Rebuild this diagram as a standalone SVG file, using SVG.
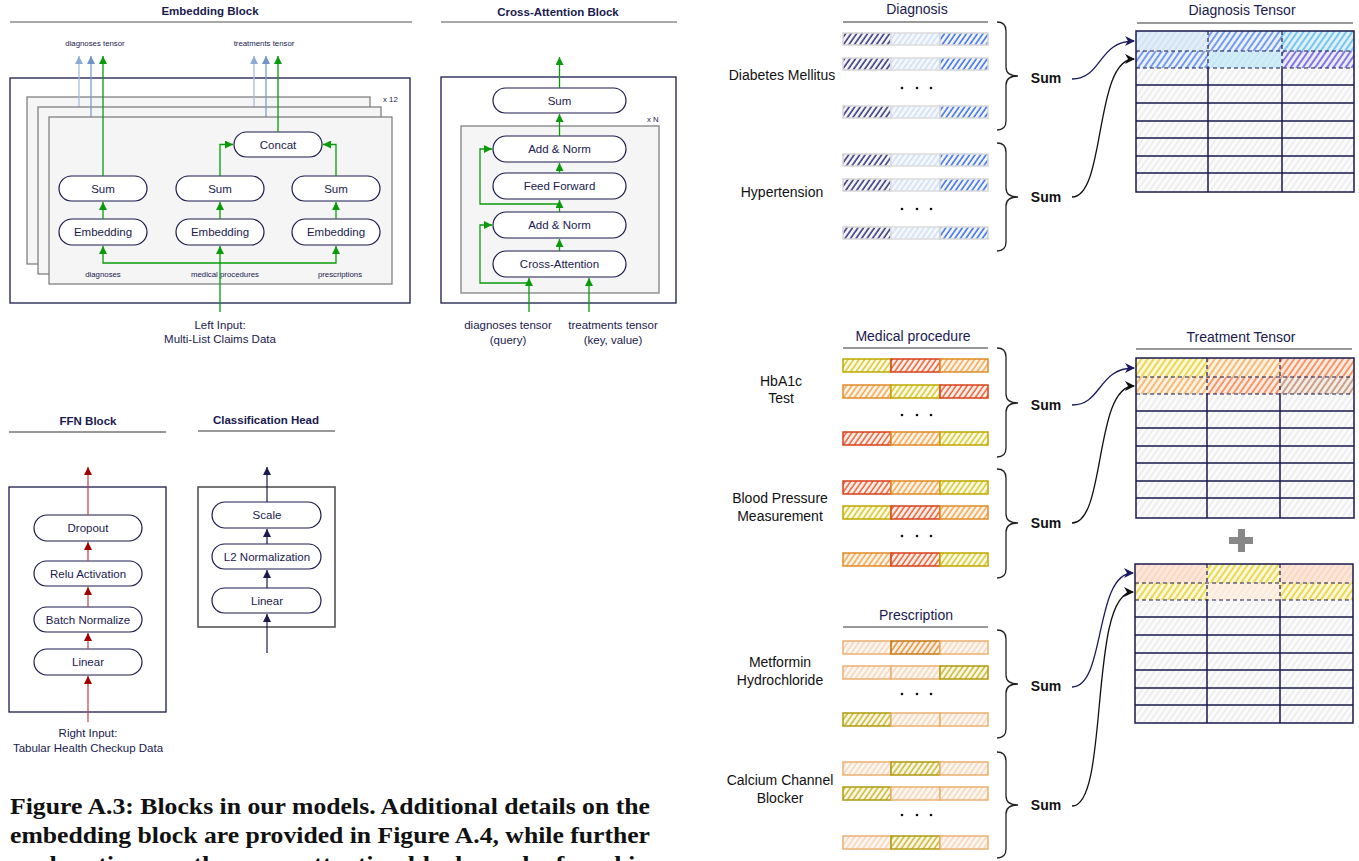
<svg xmlns="http://www.w3.org/2000/svg" width="1359" height="861" viewBox="0 0 1359 861">
<style>
.t{font-family:"Liberation Sans",Arial,sans-serif;fill:#1a1a4e;text-anchor:middle}
.bt{font-size:11.5px}
.sm{font-size:7.8px}
.ttl{font-size:11.5px;font-weight:bold}
.rt{font-size:14px}
.lab{fill:#111}
.sum{font-size:14px;font-weight:bold;fill:#111}
.box{fill:#fff;stroke:#1a1a4e;stroke-width:1.2}
.frame{fill:#fff;stroke:#1a1a4e;stroke-width:1.3}
.layer{fill:#f5f5f5;stroke:#777;stroke-width:1.2}
.ul{stroke:#555;stroke-width:1.2}
.ul2{stroke:#333;stroke-width:1.2}
.g{fill:none;stroke:#0a9b0a;stroke-width:1.3;marker-end:url(#ag)}
.b1{fill:none;stroke:#a8bedc;stroke-width:1.3;marker-end:url(#ab1)}
.b2{fill:none;stroke:#7d9ccc;stroke-width:1.3;marker-end:url(#ab2)}
.r{fill:none;stroke:#c04040;stroke-width:1.2;marker-end:url(#ar)}
.n{fill:none;stroke:#1a1a4e;stroke-width:1.2;marker-end:url(#an)}
.cn{fill:none;stroke:#1a1a5e;stroke-width:1.3;marker-end:url(#acn)}
.ck{fill:none;stroke:#111;stroke-width:1.3;marker-end:url(#ack)}
.brace{fill:none;stroke:#222;stroke-width:1.3}
.sD1{fill:url(#pNavy);stroke:#d6d6d6;stroke-width:1.5}
.sD2{fill:url(#pLBlue);stroke:#dcdcdc;stroke-width:1.5}
.sD3{fill:url(#pBlue);stroke:#d6d6d6;stroke-width:1.5}
.sY{fill:url(#pYel);stroke:#bfa800;stroke-width:1.5}
.sR{fill:url(#pRed);stroke:#d8401a;stroke-width:1.5}
.sO{fill:url(#pOra);stroke:#e08a28;stroke-width:1.5}
.sF{fill:url(#pFaint);stroke:#eab070;stroke-width:1.5}
.sS{fill:url(#pOStr);stroke:#c8781a;stroke-width:1.5}
.sL{fill:url(#pOlive);stroke:#b09a10;stroke-width:1.5}
.tl{stroke:#1a1a4e;stroke-width:1.5;fill:none}
.td{stroke:#1a1a4e;stroke-width:1.2;stroke-dasharray:4 3;fill:none}
.cap{font-family:"Liberation Serif","Times New Roman",serif;font-weight:bold;font-size:23.5px;fill:#111}
</style>
<defs>
<marker id="ag" viewBox="0 0 10 10" refX="10" refY="5" markerWidth="8" markerHeight="8" markerUnits="userSpaceOnUse" orient="auto"><path d="M0,0 L10,5 L0,10 z" fill="#0a9b0a"/></marker>
<marker id="ab1" viewBox="0 0 10 10" refX="10" refY="5" markerWidth="8" markerHeight="8" markerUnits="userSpaceOnUse" orient="auto"><path d="M0,0 L10,5 L0,10 z" fill="#8faad2"/></marker>
<marker id="ab2" viewBox="0 0 10 10" refX="10" refY="5" markerWidth="8" markerHeight="8" markerUnits="userSpaceOnUse" orient="auto"><path d="M0,0 L10,5 L0,10 z" fill="#7293c8"/></marker>
<marker id="ar" viewBox="0 0 10 10" refX="10" refY="5" markerWidth="8" markerHeight="8" markerUnits="userSpaceOnUse" orient="auto"><path d="M0,0 L10,5 L0,10 z" fill="#a00000"/></marker>
<marker id="an" viewBox="0 0 10 10" refX="10" refY="5" markerWidth="8" markerHeight="8" markerUnits="userSpaceOnUse" orient="auto"><path d="M0,0 L10,5 L0,10 z" fill="#1a1a4e"/></marker>
<marker id="acn" viewBox="0 0 10 10" refX="9" refY="5" markerWidth="10" markerHeight="10" markerUnits="userSpaceOnUse" orient="auto"><path d="M0,0 L10,5 L0,10 L3,5 z" fill="#1a1a5e"/></marker>
<marker id="ack" viewBox="0 0 10 10" refX="9" refY="5" markerWidth="10" markerHeight="10" markerUnits="userSpaceOnUse" orient="auto"><path d="M0,0 L10,5 L0,10 L3,5 z" fill="#111"/></marker>
<pattern id="pNavy" width="4.5" height="4.5" patternUnits="userSpaceOnUse" patternTransform="rotate(35)"><rect width="4.5" height="4.5" fill="#f4f4fa"/><line x1="1" y1="0" x2="1" y2="4.5" stroke="#22226e" stroke-width="1.4"/></pattern>
<pattern id="pLBlue" width="4.5" height="4.5" patternUnits="userSpaceOnUse" patternTransform="rotate(35)"><rect width="4.5" height="4.5" fill="#f4f8fd"/><line x1="1" y1="0" x2="1" y2="4.5" stroke="#cadcf2" stroke-width="1.3"/></pattern>
<pattern id="pBlue" width="4.5" height="4.5" patternUnits="userSpaceOnUse" patternTransform="rotate(35)"><rect width="4.5" height="4.5" fill="#f2f6ff"/><line x1="1" y1="0" x2="1" y2="4.5" stroke="#2a62e0" stroke-width="1.4"/></pattern>
<pattern id="pGray" width="5" height="5" patternUnits="userSpaceOnUse" patternTransform="rotate(35)"><rect width="5" height="5" fill="#fbfbfb"/><line x1="1" y1="0" x2="1" y2="5" stroke="#dedede" stroke-width="0.9"/></pattern>
<pattern id="pT1a" width="5" height="5" patternUnits="userSpaceOnUse" patternTransform="rotate(35)"><rect width="5" height="5" fill="#e2edf8"/><line x1="1" y1="0" x2="1" y2="5" stroke="#c6dcf2" stroke-width="1.1"/></pattern>
<pattern id="pT1b" width="5" height="5" patternUnits="userSpaceOnUse" patternTransform="rotate(35)"><rect width="5" height="5" fill="#eaf1ff"/><line x1="1" y1="0" x2="1" y2="5" stroke="#3a6ee6" stroke-width="1.3"/></pattern>
<pattern id="pT1c" width="5" height="5" patternUnits="userSpaceOnUse" patternTransform="rotate(35)"><rect width="5" height="5" fill="#dff0fa"/><line x1="1" y1="0" x2="1" y2="5" stroke="#3fb2e4" stroke-width="1.3"/></pattern>
<pattern id="pT1d" width="5" height="5" patternUnits="userSpaceOnUse" patternTransform="rotate(35)"><rect width="5" height="5" fill="#d2edf8"/><line x1="1" y1="0" x2="1" y2="5" stroke="#bbe3f4" stroke-width="1.1"/></pattern>
<pattern id="pT1e" width="5" height="5" patternUnits="userSpaceOnUse" patternTransform="rotate(35)"><rect width="5" height="5" fill="#ececfc"/><line x1="1" y1="0" x2="1" y2="5" stroke="#4a3ad6" stroke-width="1.3"/></pattern>
<pattern id="pYel" width="4.5" height="4.5" patternUnits="userSpaceOnUse" patternTransform="rotate(35)"><rect width="4.5" height="4.5" fill="#fdfbe6"/><line x1="1" y1="0" x2="1" y2="4.5" stroke="#d2be10" stroke-width="1.3"/></pattern>
<pattern id="pRed" width="4.5" height="4.5" patternUnits="userSpaceOnUse" patternTransform="rotate(35)"><rect width="4.5" height="4.5" fill="#fdeee8"/><line x1="1" y1="0" x2="1" y2="4.5" stroke="#e44a1c" stroke-width="1.3"/></pattern>
<pattern id="pOra" width="4.5" height="4.5" patternUnits="userSpaceOnUse" patternTransform="rotate(35)"><rect width="4.5" height="4.5" fill="#fdf3e6"/><line x1="1" y1="0" x2="1" y2="4.5" stroke="#f09a38" stroke-width="1.3"/></pattern>
<pattern id="pFaint" width="4.5" height="4.5" patternUnits="userSpaceOnUse" patternTransform="rotate(35)"><rect width="4.5" height="4.5" fill="#fef6f0"/><line x1="1" y1="0" x2="1" y2="4.5" stroke="#f6cca8" stroke-width="1.2"/></pattern>
<pattern id="pOStr" width="4.5" height="4.5" patternUnits="userSpaceOnUse" patternTransform="rotate(35)"><rect width="4.5" height="4.5" fill="#fbeede"/><line x1="1" y1="0" x2="1" y2="4.5" stroke="#d8862a" stroke-width="1.3"/></pattern>
<pattern id="pOlive" width="4.5" height="4.5" patternUnits="userSpaceOnUse" patternTransform="rotate(35)"><rect width="4.5" height="4.5" fill="#fbf8e0"/><line x1="1" y1="0" x2="1" y2="4.5" stroke="#c4aa20" stroke-width="1.3"/></pattern>
<pattern id="pTYel" width="5" height="5" patternUnits="userSpaceOnUse" patternTransform="rotate(35)"><rect width="5" height="5" fill="#fcf8e0"/><line x1="1" y1="0" x2="1" y2="5" stroke="#e4c800" stroke-width="1.3"/></pattern>
<pattern id="pTOr" width="5" height="5" patternUnits="userSpaceOnUse" patternTransform="rotate(35)"><rect width="5" height="5" fill="#fdf1e2"/><line x1="1" y1="0" x2="1" y2="5" stroke="#f0a040" stroke-width="1.3"/></pattern>
<pattern id="pTOrR" width="5" height="5" patternUnits="userSpaceOnUse" patternTransform="rotate(35)"><rect width="5" height="5" fill="#fdebe2"/><line x1="1" y1="0" x2="1" y2="5" stroke="#f06a28" stroke-width="1.3"/></pattern>
<pattern id="pTBrown" width="5" height="5" patternUnits="userSpaceOnUse" patternTransform="rotate(35)"><rect width="5" height="5" fill="#f6ece6"/><line x1="1" y1="0" x2="1" y2="5" stroke="#b07858" stroke-width="1.3"/></pattern>
<pattern id="pTFaint" width="5" height="5" patternUnits="userSpaceOnUse" patternTransform="rotate(35)"><rect width="5" height="5" fill="#fce6d8"/><line x1="1" y1="0" x2="1" y2="5" stroke="#f8d0b8" stroke-width="1.2"/></pattern>
<pattern id="pTLight" width="5" height="5" patternUnits="userSpaceOnUse" patternTransform="rotate(35)"><rect width="5" height="5" fill="#fdf2e8"/><line x1="1" y1="0" x2="1" y2="5" stroke="#fbe4d0" stroke-width="1.2"/></pattern>
</defs>
<rect width="1359" height="861" fill="#fff"/>

<!-- ===== Embedding Block ===== -->
<g id="embedding-block">
<text class="t ttl" x="210" y="15">Embedding Block</text>
<line class="ul" x1="10" y1="22" x2="412" y2="22"/>
<text class="t sm" x="95" y="46">diagnoses tensor</text>
<text class="t sm" x="264" y="46">treatments tensor</text>
<rect class="frame" x="10" y="78" width="400" height="225"/>
<rect class="layer" x="27" y="97" width="343" height="167"/>
<path class="b1" d="M79,107 V56"/>
<path class="b1" d="M254,107 V56"/>
<rect class="layer" x="38" y="107" width="343" height="167"/>
<path class="b2" d="M91,117 V56"/>
<path class="b2" d="M266,117 V56"/>
<rect class="layer" x="49" y="117" width="343" height="167"/>
<text class="t sm" x="383" y="102" style="text-anchor:start">x 12</text>
<text class="t sm" x="103" y="277">diagnoses</text>
<text class="t sm" x="225" y="277">medical  procedures</text>
<text class="t sm" x="340" y="277">prescriptions</text>
</g>
<g id="emb-concat"><rect class="box" x="234" y="132" width="88" height="25" rx="12.5"/><text class="t bt" x="278" y="148.5">Concat</text></g>
<g id="emb-sum-1"><rect class="box" x="59" y="176" width="88" height="25" rx="12.5"/><text class="t bt" x="103" y="192.5">Sum</text></g>
<g id="emb-sum-2"><rect class="box" x="176" y="176" width="88" height="25" rx="12.5"/><text class="t bt" x="220" y="192.5">Sum</text></g>
<g id="emb-sum-3"><rect class="box" x="292" y="176" width="88" height="25" rx="12.5"/><text class="t bt" x="336" y="192.5">Sum</text></g>
<g id="emb-embedding-1"><rect class="box" x="59" y="219" width="88" height="26" rx="13"/><text class="t bt" x="103" y="236">Embedding</text></g>
<g id="emb-embedding-2"><rect class="box" x="176" y="219" width="88" height="26" rx="13"/><text class="t bt" x="220" y="236">Embedding</text></g>
<g id="emb-embedding-3"><rect class="box" x="292" y="219" width="88" height="26" rx="13"/><text class="t bt" x="336" y="236">Embedding</text></g>
<g id="emb-input"><text class="t bt" x="220" y="329">Left Input:</text><text class="t bt" x="220" y="343">Multi-List Claims Data</text></g>

<!-- ===== Cross-Attention Block ===== -->
<g id="cross-attention-block">
<text class="t ttl" x="558" y="16">Cross-Attention Block</text>
<line class="ul" x1="441" y1="22" x2="677" y2="22"/>
<rect class="frame" x="441" y="77" width="235" height="226"/>
<rect class="layer" x="461" y="126" width="198" height="167"/>
<text class="t sm" x="647" y="122" style="text-anchor:start">x N</text>
</g>
<g id="ca-sum"><rect class="box" x="493" y="88" width="133" height="25" rx="12.5"/><text class="t bt" x="559.5" y="104.5">Sum</text></g>
<g id="ca-addnorm-2"><rect class="box" x="493" y="136" width="133" height="26" rx="13"/><text class="t bt" x="559.5" y="153">Add &amp; Norm</text></g>
<g id="ca-ffwd"><rect class="box" x="493" y="173" width="133" height="26" rx="13"/><text class="t bt" x="559.5" y="190">Feed Forward</text></g>
<g id="ca-addnorm-1"><rect class="box" x="493" y="212" width="133" height="26" rx="13"/><text class="t bt" x="559.5" y="229">Add &amp; Norm</text></g>
<g id="ca-cross"><rect class="box" x="493" y="251" width="133" height="26" rx="13"/><text class="t bt" x="559.5" y="268">Cross-Attention</text></g>
<g id="ca-inputs">
<text class="t bt" x="508" y="329">diagnoses tensor</text><text class="t bt" x="508" y="344">(query)</text>
<text class="t bt" x="613" y="329">treatments tensor</text><text class="t bt" x="613" y="344">(key, value)</text>
</g>

<!-- ===== FFN Block ===== -->
<g id="ffn-block">
<text class="t ttl" x="88" y="425">FFN Block</text>
<line class="ul2" x1="9" y1="432" x2="166" y2="432"/>
<rect class="frame" x="9" y="487" width="157" height="225"/>
</g>
<g id="ffn-dropout"><rect class="box" x="34" y="515" width="108" height="26" rx="13"/><text class="t bt" x="88" y="532">Dropout</text></g>
<g id="ffn-relu"><rect class="box" x="34" y="561" width="108" height="25" rx="12.5"/><text class="t bt" x="88" y="577.5">Relu Activation</text></g>
<g id="ffn-bn"><rect class="box" x="34" y="607" width="108" height="25" rx="12.5"/><text class="t bt" x="88" y="623.5">Batch Normalize</text></g>
<g id="ffn-linear"><rect class="box" x="34" y="649" width="108" height="26" rx="13"/><text class="t bt" x="88" y="666">Linear</text></g>
<g id="ffn-input"><text class="t bt" x="88" y="737">Right Input:</text><text class="t bt" x="88" y="752">Tabular Health Checkup Data</text></g>

<!-- ===== Classification Head ===== -->
<g id="classification-head">
<text class="t ttl" x="266" y="424">Classification Head</text>
<line class="ul2" x1="198" y1="431" x2="335" y2="431"/>
<rect x="198" y="487" width="137" height="140" fill="#fff" stroke="#555" stroke-width="1.6"/>
</g>
<g id="ch-scale"><rect class="box" x="212" y="502" width="109" height="26" rx="13"/><text class="t bt" x="267" y="519">Scale</text></g>
<g id="ch-l2"><rect class="box" x="212" y="544" width="109" height="25" rx="12.5"/><text class="t bt" x="267" y="560.5">L2 Normalization</text></g>
<g id="ch-linear"><rect class="box" x="212" y="588" width="109" height="25" rx="12.5"/><text class="t bt" x="267" y="604.5">Linear</text></g>

<!-- ===== Connectors (left half) ===== -->
<g id="connectors-left">
<path class="g" d="M103,176 V56"/>
<path class="g" d="M103,219 V202"/>
<path class="g" d="M220,219 V202"/>
<path class="g" d="M336,219 V202"/>
<path class="g" d="M220,176 V144.5 H233"/>
<path class="g" d="M336,176 V144.5 H323"/>
<path class="g" d="M278,132 V56"/>
<path class="g" d="M220,312 V246"/>
<path class="g" d="M220,263 H103 V246"/>
<path class="g" d="M220,263 H336 V246"/>
<path class="g" d="M559.5,88 V57"/>
<path class="g" d="M559.5,136 V114"/>
<path class="g" d="M559.5,173 V163"/>
<path class="g" d="M559.5,212 V200"/>
<path class="g" d="M559.5,251 V239"/>
<path class="g" d="M559.5,204 H480 V149 H492"/>
<path class="g" d="M529,283 H480 V225 H492"/>
<path class="g" d="M529,312 V278"/>
<path class="g" d="M589,312 V278"/>
<path class="r" d="M88,722 V676"/>
<path class="r" d="M88,649 V633"/>
<path class="r" d="M88,607 V587"/>
<path class="r" d="M88,561 V542"/>
<path class="r" d="M88,515 V467"/>
<path class="n" d="M267,653 V614"/>
<path class="n" d="M267,588 V570"/>
<path class="n" d="M267,544 V529"/>
<path class="n" d="M267,502 V467"/>
</g>

<!-- ===== Right: Diagnosis ===== -->
<g id="diagnosis-header"><text class="t rt" x="917" y="14">Diagnosis</text><line class="ul2" x1="843" y1="22" x2="988" y2="22"/></g>
<g id="diag-diabetes">
<text class="t rt lab" x="782" y="80">Diabetes Mellitus</text>
<rect class="sD1" x="843" y="33" width="48" height="12"/><rect class="sD2" x="891" y="33" width="49" height="12"/><rect class="sD3" x="940" y="33" width="48" height="12"/>
<rect class="sD1" x="843" y="58" width="48" height="12"/><rect class="sD2" x="891" y="58" width="49" height="12"/><rect class="sD3" x="940" y="58" width="48" height="12"/>
<circle cx="902" cy="88" r="1.3" fill="#111"/><circle cx="917" cy="88" r="1.3" fill="#111"/><circle cx="931" cy="88" r="1.3" fill="#111"/>
<rect class="sD1" x="843" y="106" width="48" height="12"/><rect class="sD2" x="891" y="106" width="49" height="12"/><rect class="sD3" x="940" y="106" width="48" height="12"/>
<path class="brace" d="M997,22 Q1006,22 1006,31 V67 Q1006,76 1018,76 Q1006,76 1006,85 V121 Q1006,130 997,130"/>
<text class="sum t" x="1046" y="83">Sum</text>
</g>
<g id="diag-hypertension">
<text class="t rt lab" x="782" y="197">Hypertension</text>
<rect class="sD1" x="843" y="154" width="48" height="12"/><rect class="sD2" x="891" y="154" width="49" height="12"/><rect class="sD3" x="940" y="154" width="48" height="12"/>
<rect class="sD1" x="843" y="179" width="48" height="12"/><rect class="sD2" x="891" y="179" width="49" height="12"/><rect class="sD3" x="940" y="179" width="48" height="12"/>
<circle cx="902" cy="209" r="1.3" fill="#111"/><circle cx="917" cy="209" r="1.3" fill="#111"/><circle cx="931" cy="209" r="1.3" fill="#111"/>
<rect class="sD1" x="843" y="227" width="48" height="12"/><rect class="sD2" x="891" y="227" width="49" height="12"/><rect class="sD3" x="940" y="227" width="48" height="12"/>
<path class="brace" d="M997,143 Q1006,143 1006,152 V188 Q1006,197 1018,197 Q1006,197 1006,206 V242 Q1006,251 997,251"/>
<text class="sum t" x="1046" y="202">Sum</text>
</g>
<g id="diagnosis-tensor">
<text class="t rt" x="1242" y="15">Diagnosis Tensor</text>
<line class="ul2" x1="1137" y1="23" x2="1353" y2="23"/>
<rect x="1136" y="31" width="218" height="161" fill="url(#pGray)"/>
<rect x="1136" y="31" width="72" height="20" fill="url(#pT1a)"/><rect x="1208" y="31" width="74" height="20" fill="url(#pT1b)"/><rect x="1282" y="31" width="72" height="20" fill="url(#pT1c)"/>
<rect x="1136" y="51" width="72" height="17" fill="url(#pT1b)"/><rect x="1208" y="51" width="74" height="17" fill="url(#pT1d)"/><rect x="1282" y="51" width="72" height="17" fill="url(#pT1e)"/>
<path class="td" d="M1136,51 H1354 M1136,68 H1354 M1208,31 V68 M1282,31 V68"/>
<path class="tl" d="M1136,85 H1354 M1136,103 H1354 M1136,121 H1354 M1136,138 H1354 M1136,156 H1354 M1136,173 H1354 M1208,68 V192 M1282,68 V192"/>
<rect class="tl" x="1136" y="31" width="218" height="161"/>
</g>

<!-- ===== Right: Medical procedure ===== -->
<g id="medical-header"><text class="t rt" x="913" y="341">Medical procedure</text><line class="ul2" x1="843" y1="348" x2="988" y2="348"/></g>
<g id="med-hba1c">
<text class="t rt lab" x="781" y="386">HbA1c</text><text class="t rt lab" x="781" y="403">Test</text>
<rect class="sY" x="843" y="359" width="48" height="13"/><rect class="sR" x="891" y="359" width="49" height="13"/><rect class="sO" x="940" y="359" width="48" height="13"/>
<rect class="sO" x="843" y="385" width="48" height="13"/><rect class="sY" x="891" y="385" width="49" height="13"/><rect class="sR" x="940" y="385" width="48" height="13"/>
<circle cx="902" cy="415" r="1.3" fill="#111"/><circle cx="917" cy="415" r="1.3" fill="#111"/><circle cx="931" cy="415" r="1.3" fill="#111"/>
<rect class="sR" x="843" y="432" width="48" height="13"/><rect class="sO" x="891" y="432" width="49" height="13"/><rect class="sY" x="940" y="432" width="48" height="13"/>
<path class="brace" d="M997,348 Q1006,348 1006,357 V394 Q1006,403 1018,403 Q1006,403 1006,412 V448 Q1006,457 997,457"/>
<text class="sum t" x="1046" y="410">Sum</text>
</g>
<g id="med-bp">
<text class="t rt lab" x="780" y="503">Blood Pressure</text><text class="t rt lab" x="780" y="521">Measurement</text>
<rect class="sR" x="843" y="481" width="48" height="13"/><rect class="sO" x="891" y="481" width="49" height="13"/><rect class="sY" x="940" y="481" width="48" height="13"/>
<rect class="sY" x="843" y="506" width="48" height="13"/><rect class="sR" x="891" y="506" width="49" height="13"/><rect class="sO" x="940" y="506" width="48" height="13"/>
<circle cx="902" cy="536" r="1.3" fill="#111"/><circle cx="917" cy="536" r="1.3" fill="#111"/><circle cx="931" cy="536" r="1.3" fill="#111"/>
<rect class="sO" x="843" y="553" width="48" height="13"/><rect class="sR" x="891" y="553" width="49" height="13"/><rect class="sY" x="940" y="553" width="48" height="13"/>
<path class="brace" d="M997,469 Q1006,469 1006,478 V514 Q1006,523 1018,523 Q1006,523 1006,532 V569 Q1006,578 997,578"/>
<text class="sum t" x="1046" y="528">Sum</text>
</g>
<g id="treatment-tensor">
<text class="t rt" x="1241" y="342">Treatment Tensor</text>
<line class="ul2" x1="1136" y1="349" x2="1352" y2="349"/>
<rect x="1136" y="358" width="218" height="160" fill="url(#pGray)"/>
<rect x="1136" y="358" width="71" height="19" fill="url(#pTYel)"/><rect x="1207" y="358" width="73" height="19" fill="url(#pTOr)"/><rect x="1280" y="358" width="74" height="19" fill="url(#pTOrR)"/>
<rect x="1136" y="377" width="71" height="17" fill="url(#pTOr)"/><rect x="1207" y="377" width="73" height="17" fill="url(#pTOrR)"/><rect x="1280" y="377" width="74" height="17" fill="url(#pTBrown)"/>
<path class="td" d="M1136,377 H1354 M1136,394 H1354 M1207,358 V394 M1280,358 V394"/>
<path class="tl" d="M1136,411 H1354 M1136,428 H1354 M1136,446 H1354 M1136,463 H1354 M1136,481 H1354 M1136,498 H1354 M1207,394 V518 M1280,394 V518"/>
<rect class="tl" x="1136" y="358" width="218" height="160"/>
</g>
<g id="plus"><rect x="1229" y="537" width="24" height="7" fill="#888"/><rect x="1238" y="529" width="7" height="23" fill="#888"/></g>

<!-- ===== Right: Prescription ===== -->
<g id="prescription-header"><text class="t rt" x="916" y="620">Prescription</text><line class="ul2" x1="843" y1="627" x2="988" y2="627"/></g>
<g id="pres-metformin">
<text class="t rt lab" x="780" y="667">Metformin</text><text class="t rt lab" x="780" y="685">Hydrochloride</text>
<rect class="sF" x="843" y="641" width="48" height="13"/><rect class="sS" x="891" y="641" width="49" height="13"/><rect class="sF" x="940" y="641" width="48" height="13"/>
<rect class="sF" x="843" y="666" width="48" height="13"/><rect class="sF" x="891" y="666" width="49" height="13"/><rect class="sL" x="940" y="666" width="48" height="13"/>
<circle cx="902" cy="694" r="1.3" fill="#111"/><circle cx="917" cy="694" r="1.3" fill="#111"/><circle cx="931" cy="694" r="1.3" fill="#111"/>
<rect class="sL" x="843" y="713" width="48" height="13"/><rect class="sF" x="891" y="713" width="49" height="13"/><rect class="sF" x="940" y="713" width="48" height="13"/>
<path class="brace" d="M997,630 Q1006,630 1006,639 V675 Q1006,684 1018,684 Q1006,684 1006,693 V729 Q1006,738 997,738"/>
<text class="sum t" x="1046" y="691">Sum</text>
</g>
<g id="pres-ccb">
<text class="t rt lab" x="780" y="785">Calcium Channel</text><text class="t rt lab" x="780" y="803">Blocker</text>
<rect class="sF" x="843" y="762" width="48" height="13"/><rect class="sL" x="891" y="762" width="49" height="13"/><rect class="sF" x="940" y="762" width="48" height="13"/>
<rect class="sL" x="843" y="787" width="48" height="13"/><rect class="sF" x="891" y="787" width="49" height="13"/><rect class="sF" x="940" y="787" width="48" height="13"/>
<circle cx="902" cy="815" r="1.3" fill="#111"/><circle cx="917" cy="815" r="1.3" fill="#111"/><circle cx="931" cy="815" r="1.3" fill="#111"/>
<rect class="sF" x="843" y="836" width="48" height="13"/><rect class="sL" x="891" y="836" width="49" height="13"/><rect class="sF" x="940" y="836" width="48" height="13"/>
<path class="brace" d="M997,752 Q1006,752 1006,761 V796 Q1006,805 1018,805 Q1006,805 1006,814 V849 Q1006,858 997,858"/>
<text class="sum t" x="1046" y="810">Sum</text>
</g>
<g id="prescription-tensor">
<rect x="1135" y="564" width="218" height="159" fill="url(#pGray)"/>
<rect x="1135" y="564" width="72" height="19" fill="url(#pTFaint)"/><rect x="1207" y="564" width="73" height="19" fill="url(#pTYel)"/><rect x="1280" y="564" width="73" height="19" fill="url(#pTFaint)"/>
<rect x="1135" y="583" width="72" height="17" fill="url(#pTYel)"/><rect x="1207" y="583" width="73" height="17" fill="url(#pTLight)"/><rect x="1280" y="583" width="73" height="17" fill="url(#pTYel)"/>
<path class="td" d="M1135,583 H1353 M1135,600 H1353 M1207,564 V600 M1280,564 V600"/>
<path class="tl" d="M1135,617 H1353 M1135,635 H1353 M1135,653 H1353 M1135,670 H1353 M1135,688 H1353 M1135,705 H1353 M1207,600 V723 M1280,600 V723"/>
<rect class="tl" x="1135" y="564" width="218" height="159"/>
</g>

<!-- ===== Connectors (right half) ===== -->
<g id="connectors-right">
<path class="cn" d="M1072,79 C1102,79 1098,41 1134,41"/>
<path class="ck" d="M1072,197 C1106,197 1094,59 1134,59"/>
<path class="cn" d="M1072,405 C1102,405 1098,368 1134,368"/>
<path class="ck" d="M1072,523 C1106,523 1094,386 1134,386"/>
<path class="cn" d="M1072,687 C1106,687 1094,573 1133,573"/>
<path class="ck" d="M1072,806 C1110,806 1088,592 1133,592"/>
</g>

<!-- ===== Caption ===== -->
<g id="caption">
<text class="cap" x="10" y="814" textLength="640" lengthAdjust="spacingAndGlyphs">Figure A.3: Blocks in our models. Additional details on the</text>
<text class="cap" x="10" y="843" textLength="640" lengthAdjust="spacingAndGlyphs">embedding block are provided in Figure A.4, while further</text>
<text class="cap" x="10" y="872" textLength="640" lengthAdjust="spacingAndGlyphs">explanations on the cross-attention block can be found in</text>
</g>
</svg>
